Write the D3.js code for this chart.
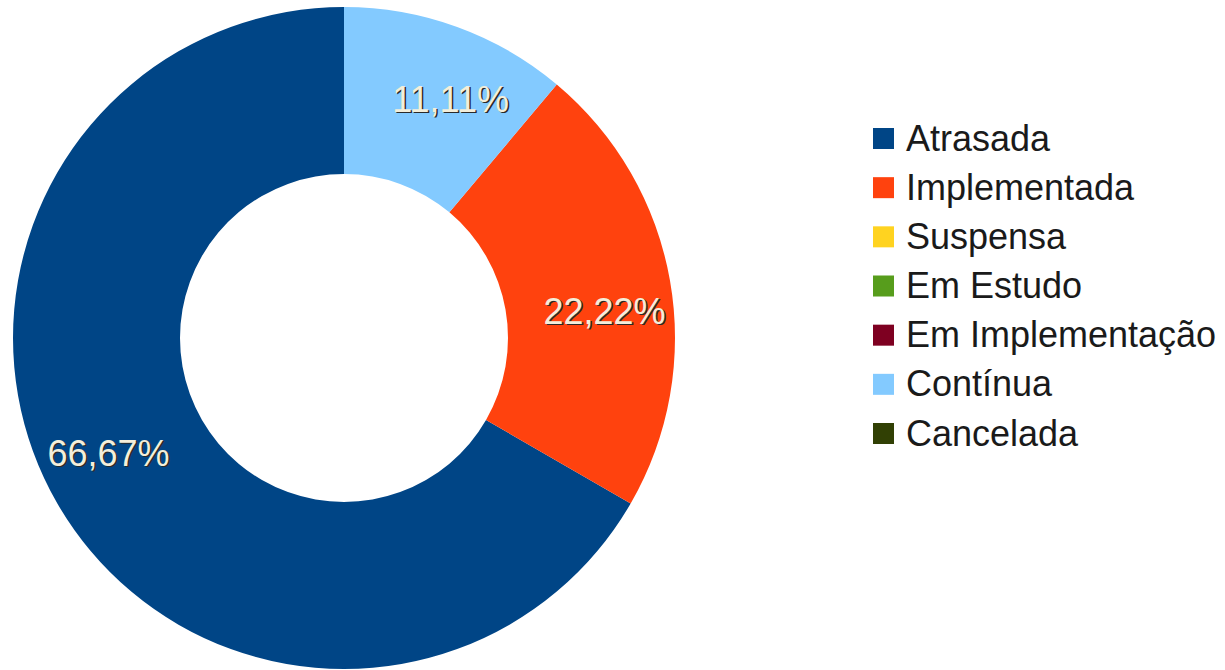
<!DOCTYPE html>
<html>
<head>
<meta charset="utf-8">
<script src="https://cdn.jsdelivr.net/npm/d3@7"></script>
<style>
  body { margin: 0; background: #fff; }
  svg { display: block; }
  .lbl { font-family: "Liberation Sans", Arial, sans-serif; font-size: 36px; }
</style>
</head>
<body>
<svg id="chart" width="1225" height="670"></svg>
<script>
// data
var categories = ["Atrasada", "Implementada", "Suspensa", "Em Estudo", "Em Implementação", "Contínua", "Cancelada"];
var counts = [6, 2, 0, 0, 0, 1, 0];
var colors = ["#004586", "#ff420e", "#ffd320", "#579d1c", "#7e0021", "#83caff", "#314004"];

var svg = d3.select("#chart"),
    cx = 344,
    cy = 338,
    outerR = 331,
    innerR = 164;

var rows = categories.map(function(c, i) {
    return { name: c, value: counts[i], color: colors[i] };
});
var total = d3.sum(counts);

// LibreOffice draws the slices counterclockwise from 12 o'clock
var pie = d3.pie()
    .sort(null)
    .value(function(d) { return d.value; })
    .startAngle(0)
    .endAngle(-2 * Math.PI);

var arc = d3.arc().innerRadius(innerR).outerRadius(outerR);
var labelArc = d3.arc().innerRadius(262).outerRadius(262);

var g = svg.append("g").attr("transform", "translate(" + cx + "," + cy + ")");

var slices = pie(rows).filter(function(d) { return d.data.value > 0; });

g.selectAll("path")
    .data(slices)
    .enter().append("path")
    .attr("d", arc)
    .attr("fill", function(d) { return d.data.color; });

var fmt = function(v) {
    return (v / total * 100).toFixed(2).replace(".", ",") + "%";
};

// labels sit a little clockwise of the slice middle
var shift = 4 * Math.PI / 180;
function labelPos(d) {
    return labelArc.centroid({ startAngle: d.startAngle + shift, endAngle: d.endAngle + shift });
}

// dark shadow first, then light text on top
[["#2a2a2a", 1.5], ["#f3eedb", 0]].forEach(function(s) {
    g.selectAll(null)
        .data(slices)
        .enter().append("text")
        .attr("class", "lbl")
        .attr("text-anchor", "middle")
        .attr("x", function(d) { return labelPos(d)[0] + s[1]; })
        .attr("y", function(d) { return labelPos(d)[1] + 13 + s[1]; })
        .attr("fill", s[0])
        .text(function(d) { return fmt(d.data.value); });
});

// legend
var legendY = d3.scaleLinear().domain([0, categories.length - 1]).range([138.5, 433.5]);

var leg = svg.append("g").selectAll("g")
    .data(rows)
    .enter().append("g")
    .attr("transform", function(d, i) { return "translate(873," + legendY(i) + ")"; });

leg.append("rect")
    .attr("x", 0)
    .attr("y", -10.5)
    .attr("width", 21)
    .attr("height", 21)
    .attr("fill", function(d) { return d.color; });

leg.append("text")
    .attr("class", "lbl")
    .attr("x", 33)
    .attr("y", 12)
    .attr("fill", "#1a1a1a")
    .text(function(d) { return d.name; });
</script>
</body>
</html>
